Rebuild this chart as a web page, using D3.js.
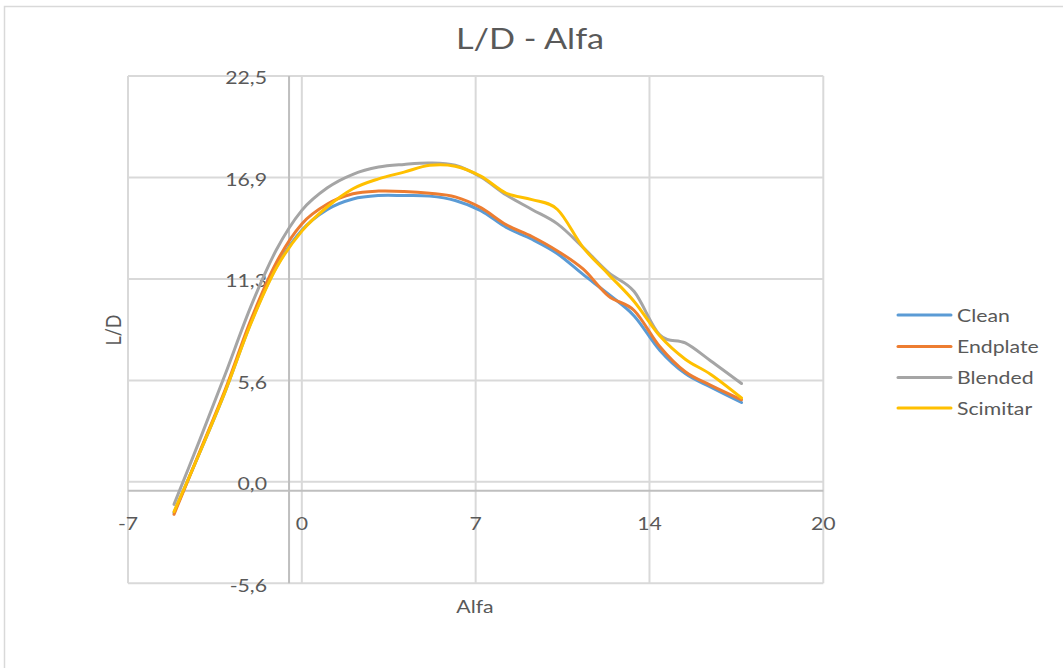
<!DOCTYPE html>
<html>
<head>
<meta charset="utf-8">
<script src="https://cdn.jsdelivr.net/npm/d3@7"></script>
<style>
  html, body { margin: 0; padding: 0; background: #ffffff; }
  svg { display: block; }
  text { font-family: Lato, "Open Sans", sans-serif; fill: #595959; }
</style>
</head>
<body>
<script>
// ---------------- data ----------------
const alfa = [-5, -4, -3, -2, -1, 0, 1, 2, 3, 4, 5, 6, 7, 8, 9, 10, 11, 12, 13, 14, 15, 16, 17.2];

const clean    = [-1.7, 1.6, 5.0, 8.8, 11.9, 13.95, 15.1, 15.68, 15.87, 15.87, 15.84, 15.6, 15.04, 14.1, 13.45, 12.65, 11.5, 10.4, 9.2, 7.3, 6.0, 5.25, 4.4];
const endplate = [-1.8, 1.65, 5.1, 8.95, 12.15, 14.3, 15.4, 15.97, 16.12, 16.1, 16.0, 15.8, 15.2, 14.25, 13.6, 12.8, 11.8, 10.3, 9.5, 7.5, 6.1, 5.35, 4.55];
const blended  = [-1.25, 2.3, 5.95, 9.7, 12.85, 15.05, 16.3, 17.05, 17.45, 17.6, 17.68, 17.55, 16.9, 15.9, 15.1, 14.3, 13.0, 11.6, 10.55, 8.15, 7.7, 6.7, 5.45];
const scimitar = [-1.65, 1.6, 5.0, 8.75, 11.85, 13.9, 15.25, 16.25, 16.8, 17.17, 17.55, 17.5, 16.95, 16.0, 15.65, 15.1, 13.0, 11.5, 10.0, 8.1, 6.8, 5.95, 4.65];

const seriesNames  = ["Clean", "Endplate", "Blended", "Scimitar"];
const seriesColors = ["#5B9BD5", "#ED7D31", "#A5A5A5", "#FFC000"];
const seriesValues = [clean, endplate, blended, scimitar];

const xTickValues = [-6.8, 0, 6.8, 13.6, 20.4];
const xTickLabels = ["-7", "0", "7", "14", "20"];
const yTickValues = [-5.625, 0, 5.625, 11.25, 16.875, 22.5];
const yTickLabels = ["-5,6", "0,0", "5,6", "11,3", "16,9", "22,5"];

const chartTitle = "L/D - Alfa";
const xTitle = "Alfa";
const yTitle = "L/D";
const axisCross = -0.5;

// ---------------- layout ----------------
const W = 1063, H = 668;
const SX = 1.18; // horizontal stretch of the reference text
const svg = d3.select("body").append("svg").attr("width", W).attr("height", H);

svg.append("rect")
  .attr("x", 4.5).attr("y", 6.5).attr("width", W + 10).attr("height", H + 10)
  .attr("fill", "#ffffff").attr("stroke", "#d9d9d9").attr("stroke-width", 1.5);

const x = d3.scaleLinear().domain([-6.8, 20.4]).range([128, 823.3]);
const y = d3.scaleLinear().domain([-5.625, 22.5]).range([583.3, 76]);

// gridlines
const grid = svg.append("g");
grid.selectAll("line.v").data(xTickValues).enter().append("line")
  .attr("x1", d => x(d)).attr("x2", d => x(d))
  .attr("y1", y(22.5)).attr("y2", y(-5.625))
  .attr("stroke", "#d9d9d9").attr("stroke-width", 2);
grid.selectAll("line.h").data(yTickValues).enter().append("line")
  .attr("x1", x(-6.8)).attr("x2", x(20.4))
  .attr("y1", d => y(d)).attr("y2", d => y(d))
  .attr("stroke", "#d9d9d9").attr("stroke-width", 2);

// axis lines (crossing at -0.5)
svg.append("line")
  .attr("x1", x(axisCross)).attr("x2", x(axisCross))
  .attr("y1", y(22.5)).attr("y2", y(-5.625))
  .attr("stroke", "#bfbfbf").attr("stroke-width", 2);
svg.append("line")
  .attr("x1", x(-6.8)).attr("x2", x(20.4))
  .attr("y1", y(axisCross)).attr("y2", y(axisCross))
  .attr("stroke", "#bfbfbf").attr("stroke-width", 2);

// tick labels
svg.append("g").selectAll("text").data(xTickValues).enter().append("text")
  .attr("transform", d => `translate(${x(d)},523.5) scale(${SX},1)`)
  .attr("text-anchor", "middle").attr("dominant-baseline", "central")
  .attr("font-size", 18)
  .text((d, i) => xTickLabels[i]);

svg.append("g").selectAll("text").data(yTickValues).enter().append("text")
  .attr("transform", d => `translate(267,${y(d) + 1.5}) scale(${SX},1)`)
  .attr("text-anchor", "end").attr("dominant-baseline", "central")
  .attr("font-size", 18)
  .text((d, i) => yTickLabels[i]);

// lines
const line = d3.line()
  .x(d => x(d[0])).y(d => y(d[1]))
  .curve(d3.curveCardinal.tension(0));

seriesValues.forEach((vals, i) => {
  svg.append("path")
    .datum(alfa.map((a, j) => [a, vals[j]]))
    .attr("fill", "none")
    .attr("stroke", seriesColors[i])
    .attr("stroke-width", 3)
    .attr("stroke-linecap", "round")
    .attr("stroke-linejoin", "round")
    .attr("d", line);
});

// titles
svg.append("text")
  .attr("transform", `translate(530,38) scale(${SX},1)`)
  .attr("text-anchor", "middle").attr("dominant-baseline", "central")
  .attr("font-size", 29).text(chartTitle);

svg.append("text")
  .attr("transform", `translate(475,606) scale(${SX},1)`)
  .attr("text-anchor", "middle").attr("dominant-baseline", "central")
  .attr("font-size", 18).text(xTitle);

svg.append("text")
  .attr("transform", `translate(113,330) scale(${SX},1) rotate(-90)`)
  .attr("text-anchor", "middle").attr("dominant-baseline", "central")
  .attr("font-size", 18).text(yTitle);

// legend
const legendY = [315, 346.5, 377.5, 408];
const lg = svg.append("g");
seriesNames.forEach((name, i) => {
  lg.append("line")
    .attr("x1", 898).attr("x2", 951)
    .attr("y1", legendY[i]).attr("y2", legendY[i])
    .attr("stroke", seriesColors[i]).attr("stroke-width", 3)
    .attr("stroke-linecap", "round");
  lg.append("text")
    .attr("transform", `translate(957,${legendY[i]}) scale(${SX},1)`)
    .attr("dominant-baseline", "central")
    .attr("font-size", 18).text(name);
});
</script>
</body>
</html>
